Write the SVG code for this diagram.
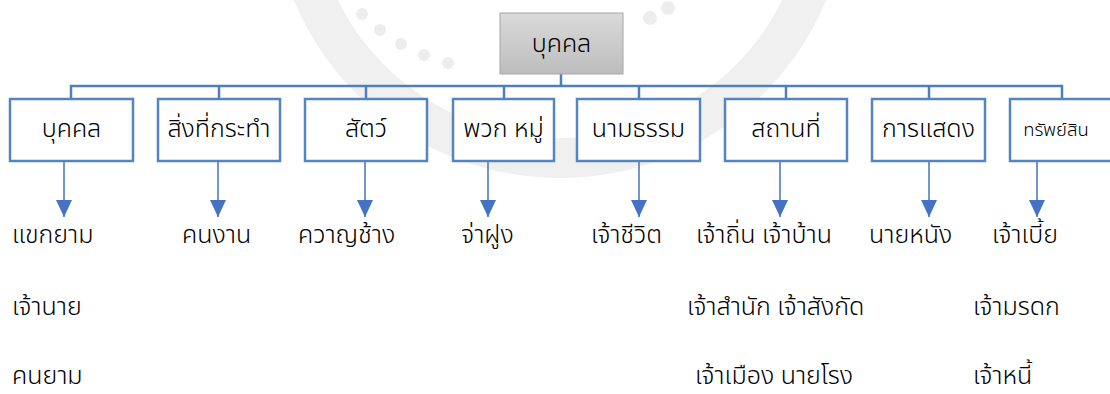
<svg xmlns="http://www.w3.org/2000/svg" width="1110" height="394" viewBox="0 0 1110 394">
<defs>
<linearGradient id="gray" x1="0" y1="0" x2="0" y2="1">
<stop offset="0" stop-color="#DADADA"/>
<stop offset="1" stop-color="#BDBDBD"/>
</linearGradient>
<marker id="arr" viewBox="0 0 17 16" refX="17" refY="8" markerWidth="17" markerHeight="16" markerUnits="userSpaceOnUse" orient="auto">
<path d="M0,0 L17,8 L0,16 Z" fill="#4472C4"/>
</marker>
<style>
.bx{fill:#FFFFFF;stroke:#5585C0;stroke-width:2.5}
.tree{fill:none;stroke:#4E7FBA;stroke-width:2.5}
.arw{stroke:#4472C4;stroke-width:1.5;fill:none}
.t{font-family:"Noto Sans Thai","Leelawadee UI",Tahoma,"Noto Sans","DejaVu Sans",sans-serif;font-size:25px;font-weight:300;fill:#000}
.lb{text-anchor:middle}
.wm{fill:none;stroke:#F0F0F0;stroke-width:40}
.dot{fill:#EDEDED}
</style>
</defs>
<rect width="1110" height="394" fill="#FFFFFF"/>
<g id="watermark">
<circle class="wm" cx="560" cy="-110" r="268"/>
<circle class="dot" cx="362" cy="14" r="6"/>
<circle class="dot" cx="380" cy="30" r="6"/>
<circle class="dot" cx="401" cy="44" r="6"/>
<circle class="dot" cx="424" cy="55" r="6"/>
<circle class="dot" cx="448" cy="63" r="6"/>
<circle class="dot" cx="650" cy="18" r="7"/>
<circle class="dot" cx="668" cy="8" r="7"/>
</g>
<g id="connectors">
<path class="tree" d="M561,74 V86 M71,98 V86 H1062 V98 M219,86 V98 M366,86 V98 M504,86 V98 M639,86 V98 M786,86 V98 M929,86 V98"/>
<line class="arw" x1="64" y1="161" x2="64" y2="217" marker-end="url(#arr)"/>
<line class="arw" x1="218" y1="161" x2="218" y2="217" marker-end="url(#arr)"/>
<line class="arw" x1="365" y1="161" x2="365" y2="217" marker-end="url(#arr)"/>
<line class="arw" x1="488" y1="161" x2="488" y2="217" marker-end="url(#arr)"/>
<line class="arw" x1="639" y1="161" x2="639" y2="217" marker-end="url(#arr)"/>
<line class="arw" x1="780" y1="161" x2="780" y2="217" marker-end="url(#arr)"/>
<line class="arw" x1="929" y1="161" x2="929" y2="217" marker-end="url(#arr)"/>
<line class="arw" x1="1037" y1="161" x2="1037" y2="217" marker-end="url(#arr)"/>
</g>
<g id="root">
<rect x="500" y="13" width="123" height="61" fill="url(#gray)" stroke="#A6A6A6" stroke-width="1"/>
<text class="t lb" x="561.5" y="52">บุคคล</text>
</g>
<g id="n1"><rect class="bx" x="10" y="99" width="123" height="62"/><text class="t lb" x="71.5" y="137">บุคคล</text></g>
<g id="n2"><rect class="bx" x="158" y="99" width="122" height="62"/><text class="t lb" x="219" y="137">สิ่งที่กระทำ</text></g>
<g id="n3"><rect class="bx" x="305" y="99" width="122" height="62"/><text class="t lb" x="366" y="137">สัตว์</text></g>
<g id="n4"><rect class="bx" x="453" y="99" width="101" height="62"/><text class="t lb" x="503.5" y="137">พวก หมู่</text></g>
<g id="n5"><rect class="bx" x="577" y="99" width="123" height="62"/><text class="t lb" x="638.5" y="137">นามธรรม</text></g>
<g id="n6"><rect class="bx" x="725" y="99" width="122" height="62"/><text class="t lb" x="786" y="137">สถานที่</text></g>
<g id="n7"><rect class="bx" x="872" y="99" width="113" height="62"/><text class="t lb" x="928.5" y="137">การแสดง</text></g>
<g id="n8"><rect class="bx" x="1010" y="99" width="104" height="62"/><text class="t lb" x="1056" y="136" style="font-size:18.5px">ทรัพย์สิน</text></g>
<g id="examples">
<text class="t" x="12" y="243">แขกยาม</text>
<text class="t" x="182" y="243">คนงาน</text>
<text class="t" x="298" y="243">ควาญช้าง</text>
<text class="t" x="461" y="243">จ่าฝูง</text>
<text class="t" x="591" y="243">เจ้าชีวิต</text>
<text class="t" x="696" y="243">เจ้าถิ่น เจ้าบ้าน</text>
<text class="t" x="869" y="243">นายหนัง</text>
<text class="t" x="992" y="243">เจ้าเบี้ย</text>
<text class="t" x="12" y="315">เจ้านาย</text>
<text class="t" x="687" y="315">เจ้าสำนัก เจ้าสังกัด</text>
<text class="t" x="973" y="315">เจ้ามรดก</text>
<text class="t" x="12" y="384">คนยาม</text>
<text class="t" x="695" y="384">เจ้าเมือง นายโรง</text>
<text class="t" x="973" y="384">เจ้าหนี้</text>
</g>
</svg>
